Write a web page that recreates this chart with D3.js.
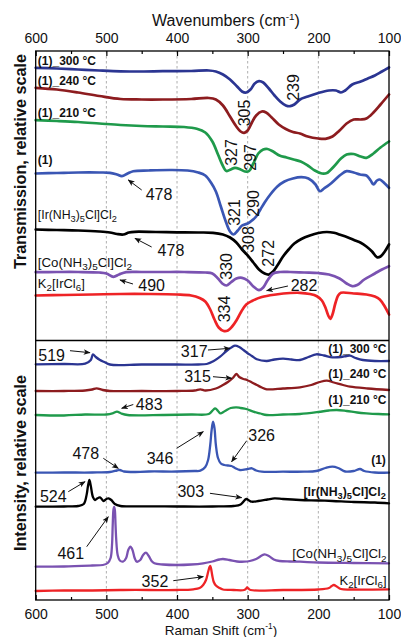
<!DOCTYPE html>
<html><head><meta charset="utf-8">
<script src="https://cdn.jsdelivr.net/npm/d3@7/dist/d3.min.js"></script>
<style>
html,body{margin:0;padding:0;background:#fff;}
svg{display:block;font-family:"Liberation Sans",Arial,sans-serif;}
</style></head>
<body><svg id="c" width="401" height="637"></svg>
<script>
// ---------- DATA ----------
const xTicks = [600, 500, 400, 300, 200, 100];
const xMinor = [550, 450, 350, 250, 150];
const gridTicks = [500, 400, 300, 200];

// Transmission (IR), [wavenumber, relative value]
const ir300 = [[600,272.7],[570,272],[540,271],[510,270],[480,269.2],[450,269],[420,269.3],[380,269.5],[355,270],[345,269],[335,266],[325,261],[315,254],[308,249],[302,248],[296,251],[290,257],[284,259.3],[278,258],[270,252],[262,245],[254,239],[246,235],[240,234.3],[234,236],[226,241],[215,244],[200,247.5],[185,250],[175,250],[168,248],[162,250],[152,256],[140,259],[130,262],[120,265],[110,269],[100,273]];
const ir240 = [[600,252.7],[570,251],[540,248],[510,244.5],[480,241.5],[450,241],[420,241],[380,241.5],[355,242.5],[345,241],[335,235],[325,224],[316,214],[310,209],[305,207.7],[300,210],[294,218],[288,225],[280,229],[274,228],[266,223],[256,216],[246,211.5],[236,208.5],[226,207],[215,204],[200,202],[190,201.7],[180,204],[170,210],[160,217],[150,221],[140,221],[132,222],[122,228],[112,236],[100,246]];
const ir210 = [[600,220.3],[570,219.5],[540,218.5],[510,217],[480,215.5],[450,214.5],[420,214],[390,213.5],[372,211.7],[360,208],[350,199],[342,186],[336,176],[330,169.5],[324,171],[318,172.7],[310,171],[304,169],[298,169.5],[292,177],[285,187],[278,191],[272,191.5],[264,189],[255,185],[245,183],[235,181],[225,179],[215,175],[205,170],[195,167],[188,167.5],[178,174],[168,182],[160,186],[150,186.5],[140,184],[132,182.7],[122,187],[112,193],[100,199]];
const ir1 = [[600,167],[570,167.5],[540,168],[510,168],[495,167.7],[485,166],[478,164.3],[470,167],[462,169.3],[440,170],[410,170.5],[385,170],[370,168],[360,165],[352,158],[345,149],[338,134],[331,119],[325,109],[320,106],[314,110],[308,115],[300,117],[294,120],[288,124],[282,131],[276,138],[268,146],[258,154],[248,159],[236,162],[224,163.3],[214,162],[204,156],[198,149.3],[192,152],[184,156],[176,161],[168,166],[160,169.3],[150,168],[141,166],[132,165],[126,160],[122,156],[117,160],[113,161],[106,157],[100,152.7]];
const irIr = [[600,111],[570,110.5],[540,110],[510,109],[495,108],[485,106.5],[476,106],[468,108],[460,108.7],[430,108.5],[400,108.2],[370,108],[349,107.7],[335,106],[325,103],[316,98],[308,91],[300,85],[292,78],[284,71],[276,67],[270,66],[264,69],[258,75],[250,84],[242,91],[234,97],[224,101.5],[212,105],[200,107.5],[188,108.5],[178,107.7],[168,105.5],[158,103],[148,100],[140,97.7],[132,94],[124,89],[117,83.3],[112,84],[106,89],[100,96]];
const irCo = [[600,68.3],[570,68.5],[540,68.5],[510,68],[500,67],[490,63.7],[482,66],[472,68.3],[450,68.5],[420,68.5],[390,68.5],[360,68],[350,67],[342,62],[336,57],[330,55],[324,58],[316,62],[308,62.7],[300,60],[292,54],[284,50.3],[278,53],[272,60],[264,67],[254,68.5],[240,68.5],[220,68],[200,67.5],[185,66],[170,62],[160,57],[152,54.3],[145,55.5],[135,61],[120,67],[110,71],[100,74.3]];
const irK = [[600,45],[560,45.5],[520,46],[480,46.5],[440,46.5],[400,46],[380,45],[368,42.5],[360,39],[353,31],[347,21],[341,13],[334,9.5],[328,10],[322,14],[316,20],[309,29],[302,36],[294,39.5],[280,43.5],[260,46],[240,47.5],[226,47.7],[212,46.5],[202,44.3],[195,40],[190,33],[186,25],[183,21.7],[180,26],[176,37],[172,45],[168,47.7],[150,47],[132,46],[120,44],[113,41],[106,34],[100,26]];

// Raman, [shift, relative intensity]
const ra300 = [[600,235.7],[560,236],[530,236.3],[522,240],[519,245.7],[515,243],[509,240],[503,238],[495,235.5],[450,235.5],[400,235.5],[370,235.5],[358,236],[348,239],[339,243.3],[330,249],[322,253],[318,254.3],[312,253],[306,250],[301,247.3],[294,244],[287,240.7],[273,239],[262,240.5],[250,241.3],[238,240.5],[226,240],[214,243],[203,245.7],[192,244.5],[180,242.7],[168,243],[160,244],[155,244.3],[147,242],[137,240],[120,239],[100,239]];
const ra240 = [[600,209],[560,209],[530,209.5],[520,210.5],[514,211.7],[505,210],[495,209],[450,209],[400,209],[375,209.5],[367,210.7],[360,209.5],[345,211.5],[335,215],[328,218],[321,222],[316,226],[312,223],[306,221],[301,220],[294,217.5],[287,215],[280,212.5],[273,210.7],[250,211.5],[226,212.7],[210,215],[198,218],[188,219.3],[178,217.5],[165,215],[155,213.3],[130,211.5],[100,210]];
const ra210 = [[600,185],[560,184.5],[530,185.5],[500,185.5],[490,187],[485,188.3],[479,186.5],[470,185],[420,185],[380,185.5],[355,186],[349,190],[346,191.7],[342,189],[339,186.7],[332,189],[324,192],[316,192.7],[310,192],[302,191],[292,188.3],[282,186.5],[273,185],[250,185.5],[226,186],[200,188],[185,189.5],[174,190],[160,189],[145,187.5],[132,186.7],[115,186],[100,185.7]];
const ra1 = [[600,127.3],[560,127.5],[520,127.5],[495,128],[485,129.5],[481,130],[475,128.5],[465,128],[440,128.5],[400,128.5],[375,129],[367,129.3],[360,133],[356,140],[353,155],[351,170],[349,178.3],[347,172],[345,155],[342,142],[338,136.5],[333,135],[328,134.5],[323,134],[318,132],[311,130],[300,131],[294,131.7],[288,129.5],[280,128.3],[250,128.3],[220,128.3],[203,129],[190,132],[180,133.3],[172,132],[162,128.5],[150,129],[141,131],[135,129],[120,127.5],[100,127.3]];
const raIr = [[600,93.3],[560,93.5],[540,94],[532,96],[528,105],[526,114],[524,120],[522,114],[519,103],[516,100],[513,101.5],[509,102.7],[504,99],[500,101],[497,101.7],[493,100],[488,96],[480,94],[450,93.7],[400,93.5],[350,93.5],[320,94],[310,95.5],[302,101],[298,99.5],[294,98.3],[285,99],[272,100.5],[262,101.7],[250,101],[226,100],[200,99.5],[180,99],[150,98],[120,97.5],[100,96.7]];
const raCo = [[600,33.3],[560,33.5],[520,34.5],[505,35],[498,37],[494,42],[492,55],[491,75],[490,90],[489,93],[488,90],[487,75],[486,60],[484,45],[481,39.5],[476,38.5],[472,42],[469,50],[466,53.3],[463,50],[460,42],[457,38.3],[452,40],[448,45],[444,47.3],[440,44],[436,39],[432,36.7],[420,35.5],[400,35],[380,35.5],[363,36.7],[350,38.5],[340,40.5],[335,41],[326,40],[315,38.5],[305,38.3],[297,39],[288,41],[280,44.5],[276,45.7],[270,44],[263,40.5],[255,39],[240,38.5],[226,38.3],[200,37.5],[150,37],[100,36.7]];
const raK = [[600,9],[560,9.5],[520,9.5],[480,10],[440,10],[400,10],[377,10.7],[368,12],[363,15],[359,20],[356,28],[354,33],[353,34],[352,32],[350,24],[348,18],[345,14.5],[340,12],[335,10.5],[320,10],[305,10],[302,11.5],[301,12.7],[299,11.5],[296,10],[250,10],[200,10.5],[185,12],[181,14],[178,15],[174,13.5],[168,11],[150,10.5],[100,10.7]];

const colors = {c300:"#2b3592", c240:"#8d1c1f", c210:"#1f9a4b", c1:"#3a56b4", cIr:"#000000", cCo:"#7a52b1", cK:"#ee2326"};

// ---------- SCALES ----------
const svg = d3.select("#c");
const L = 35.7, R = 389, T = 51, M = 340.5, B = 600;
const x = d3.scaleLinear().domain([600, 100]).range([L, R]);
const yT = d3.scaleLinear().domain([0, M - T]).range([M, T]);
const yB = d3.scaleLinear().domain([0, B - M]).range([B, M]);
const FONT = '"Liberation Sans",Arial,sans-serif';

// grid
gridTicks.forEach(v => {
  svg.append("line").attr("x1", x(v)).attr("x2", x(v)).attr("y1", T).attr("y2", B)
    .attr("stroke", "#9a9a9a").attr("stroke-width", 0.8).attr("stroke-dasharray", "2.5,2.5");
});

// curves
function drawLine(data, ys, color, w) {
  const line = d3.line().x(d => x(d[0])).y(d => ys(d[1])).curve(d3.curveCatmullRom.alpha(0.5));
  svg.append("path").datum(data).attr("d", line).attr("fill", "none")
    .attr("stroke", color).attr("stroke-width", w).attr("stroke-linejoin", "round").attr("stroke-linecap", "round");
}
[[ir300,colors.c300],[ir240,colors.c240],[ir210,colors.c210],[ir1,colors.c1],[irIr,colors.cIr],[irCo,colors.cCo],[irK,colors.cK]]
  .forEach(([d,c]) => drawLine(d, yT, c, 2.7));
[[ra300,colors.c300],[ra240,colors.c240],[ra210,colors.c210],[ra1,colors.c1],[raIr,colors.cIr],[raCo,colors.cCo],[raK,colors.cK]]
  .forEach(([d,c]) => drawLine(d, yB, c, 2.3));

// frames
svg.append("rect").attr("x", L).attr("y", T).attr("width", R - L).attr("height", B - T)
  .attr("fill", "none").attr("stroke", "#000").attr("stroke-width", 1.3);
svg.append("line").attr("x1", L).attr("x2", R).attr("y1", M).attr("y2", M).attr("stroke", "#000").attr("stroke-width", 1.3);

// axes
const topAxis = d3.axisTop(x).tickValues(xTicks).tickSize(-5).tickPadding(8).tickFormat(d3.format("d"));
const botAxis = d3.axisBottom(x).tickValues(xTicks).tickSize(-5).tickPadding(8).tickFormat(d3.format("d"));
const gT = svg.append("g").attr("transform", `translate(0,${T})`).call(topAxis);
const gB = svg.append("g").attr("transform", `translate(0,${B})`).call(botAxis);
[gT, gB].forEach(g => {
  g.select(".domain").remove();
  g.selectAll("text").attr("font-size", 14).attr("font-family", FONT).attr("fill", "#111");
  g.selectAll("line").attr("stroke", "#000").attr("stroke-width", 1.2);
});
gT.selectAll("text").attr("y", -7.7).attr("dy", null);
gB.selectAll("text").attr("y", 18.5).attr("dy", null);
const mT = svg.append("g").attr("transform", `translate(0,${T})`).call(d3.axisTop(x).tickValues(xMinor).tickSize(-3).tickFormat(""));
const mB = svg.append("g").attr("transform", `translate(0,${B})`).call(d3.axisBottom(x).tickValues(xMinor).tickSize(-3).tickFormat(""));
[mT, mB].forEach(g => { g.select(".domain").remove(); g.selectAll("line").attr("stroke", "#000").attr("stroke-width", 1.2); });

// titles
function titleWithSup(tx, ty, main, size) {
  const t = svg.append("text").attr("x", tx).attr("y", ty).attr("text-anchor", "middle")
    .attr("font-size", size).attr("fill", "#111").attr("font-family", FONT);
  t.append("tspan").text(main + " (cm");
  t.append("tspan").attr("font-size", size * 0.62).attr("dy", -size * 0.4).text("-1");
  t.append("tspan").attr("dy", size * 0.4).text(")");
}
titleWithSup(226, 26, "Wavenumbers", 16);
titleWithSup(221, 634.5, "Raman Shift", 13.5);

svg.append("text").attr("transform", `translate(26,${yT(179)}) rotate(-90)`).attr("text-anchor", "middle")
  .attr("font-size", 16.2).attr("font-weight", "bold").attr("fill", "#111").text("Transmission, relative scale");
svg.append("text").attr("transform", `translate(26,${yB(137)}) rotate(-90)`).attr("text-anchor", "middle")
  .attr("font-size", 16.2).attr("font-weight", "bold").attr("fill", "#111").text("Intensity, relative scale");

// series labels
function seriesLabel(parts, px, py, anchor, size, bold) {
  const t = svg.append("text").attr("x", px).attr("y", py).attr("text-anchor", anchor)
    .attr("dominant-baseline", "central").attr("font-size", size).attr("fill", "#111")
    .attr("font-weight", bold ? "bold" : "normal");
  const off = size * 0.32;
  let lowered = false;
  parts.forEach(p => {
    if (typeof p === "string") {
      const s = t.append("tspan").text(p);
      if (lowered) { s.attr("dy", -off); lowered = false; }
    } else {
      t.append("tspan").attr("font-size", size * 0.75).attr("dy", off).text(p.sub);
      lowered = true;
    }
  });
}
const lblIr = ["[Ir(NH", {sub:"3"}, ")", {sub:"5"}, "Cl]Cl", {sub:"2"}];
const lblCo = ["[Co(NH", {sub:"3"}, ")", {sub:"5"}, "Cl]Cl", {sub:"2"}];
const lblK = ["K", {sub:"2"}, "[IrCl", {sub:"6"}, "]"];

seriesLabel(["(1)_300 °C"], x(597), yT(279.5), "start", 12, true);
seriesLabel(["(1)_240 °C"], x(597), yT(259.5), "start", 12, true);
seriesLabel(["(1)_210 °C"], x(597), yT(227.2), "start", 12, true);
seriesLabel(["(1)"], x(597), yT(180.5), "start", 12, true);
seriesLabel(lblIr, x(597), yT(125.5), "start", 12.3, false);
seriesLabel(lblCo, x(597), yT(79), "start", 13.3, false);
seriesLabel(lblK, x(597), yT(57.5), "start", 13, false);

seriesLabel(["(1)_300 °C"], x(103.5), yB(250.7), "end", 12, true);
seriesLabel(["(1)_240 °C"], x(103.5), yB(226), "end", 12, true);
seriesLabel(["(1)_210 °C"], x(103.5), yB(200), "end", 12, true);
seriesLabel(["(1)"], x(104.5), yB(140), "end", 12, true);
seriesLabel(lblIr, x(104.5), yB(108.3), "end", 12.3, true);
seriesLabel(lblCo, x(103.5), yB(46.7), "end", 13.3, false);
seriesLabel(lblK, x(103.5), yB(20), "end", 13, false);

// rotated peak labels (top panel)
const rotLabels = [["305",304.8,227.5],["239",235,253],["327",322.7,188],["297",296.7,183],["321",318,128],["290",292,137],["308",299.2,101],["272",270.9,87.2],["330",329.7,74],["334",332.1,31.5]];
rotLabels.forEach(([s, wn, v]) => {
  svg.append("text").attr("transform", `translate(${x(wn)},${yT(v)}) rotate(-90)`)
    .attr("text-anchor", "middle").attr("dominant-baseline", "central")
    .attr("font-size", 16).attr("fill", "#111").text(s);
});

// arrow annotations
svg.append("defs").append("marker").attr("id", "ah").attr("viewBox", "0 0 10 10").attr("refX", 9).attr("refY", 5)
  .attr("markerWidth", 7).attr("markerHeight", 7).attr("orient", "auto-start-reverse")
  .append("path").attr("d", "M0,1 L10,5 L0,9 L2.5,5 Z").attr("fill", "#111");
function arrowLabel(ys, s, tw, tv, fw, fv, aw, av) {
  svg.append("text").attr("x", x(tw)).attr("y", ys(tv)).attr("text-anchor", "middle")
    .attr("dominant-baseline", "central").attr("font-size", 16).attr("fill", "#111").text(s);
  svg.append("line").attr("x1", x(fw)).attr("y1", ys(fv)).attr("x2", x(aw)).attr("y2", ys(av))
    .attr("stroke", "#111").attr("stroke-width", 1).attr("marker-end", "url(#ah)");
}
arrowLabel(yT, "478", 425.5, 146.5, 450, 150.5, 469, 160.5);
arrowLabel(yT, "478", 408.6, 90.5, 435.9, 93.5, 459.5, 102.2);
arrowLabel(yT, "490", 435.9, 55.5, 462.3, 56.5, 480.7, 60.5);
arrowLabel(yT, "282", 220.3, 55.5, 243, 54.5, 273.1, 49.8);

arrowLabel(yB, "519", 577.4, 245, 551.5, 249.3, 523.2, 247.3);
arrowLabel(yB, "317", 375.7, 248.3, 356.2, 250, 325.1, 251.7);
arrowLabel(yB, "315", 371, 223.3, 349.1, 223.3, 322.7, 221.7);
arrowLabel(yB, "483", 439.4, 196, 461.9, 195.5, 478.3, 191.7);
arrowLabel(yB, "478", 529.1, 146.7, 504.3, 141.7, 483.1, 131.7);
arrowLabel(yB, "346", 424.1, 141.7, 400.5, 151.7, 362.8, 168.3);
arrowLabel(yB, "326", 280.2, 165, 301.4, 159.3, 322.7, 138.3);
arrowLabel(yB, "524", 575.1, 103.3, 553.9, 108.3, 530.2, 118.3);
arrowLabel(yB, "303", 380.5, 108.3, 353.4, 106.7, 308.5, 102.3);
arrowLabel(yB, "461", 550.3, 46.7, 527.8, 53.3, 497.3, 83.3);
arrowLabel(yB, "352", 431.2, 18.3, 405.3, 19.3, 362.8, 23.3);
</script></body></html>
